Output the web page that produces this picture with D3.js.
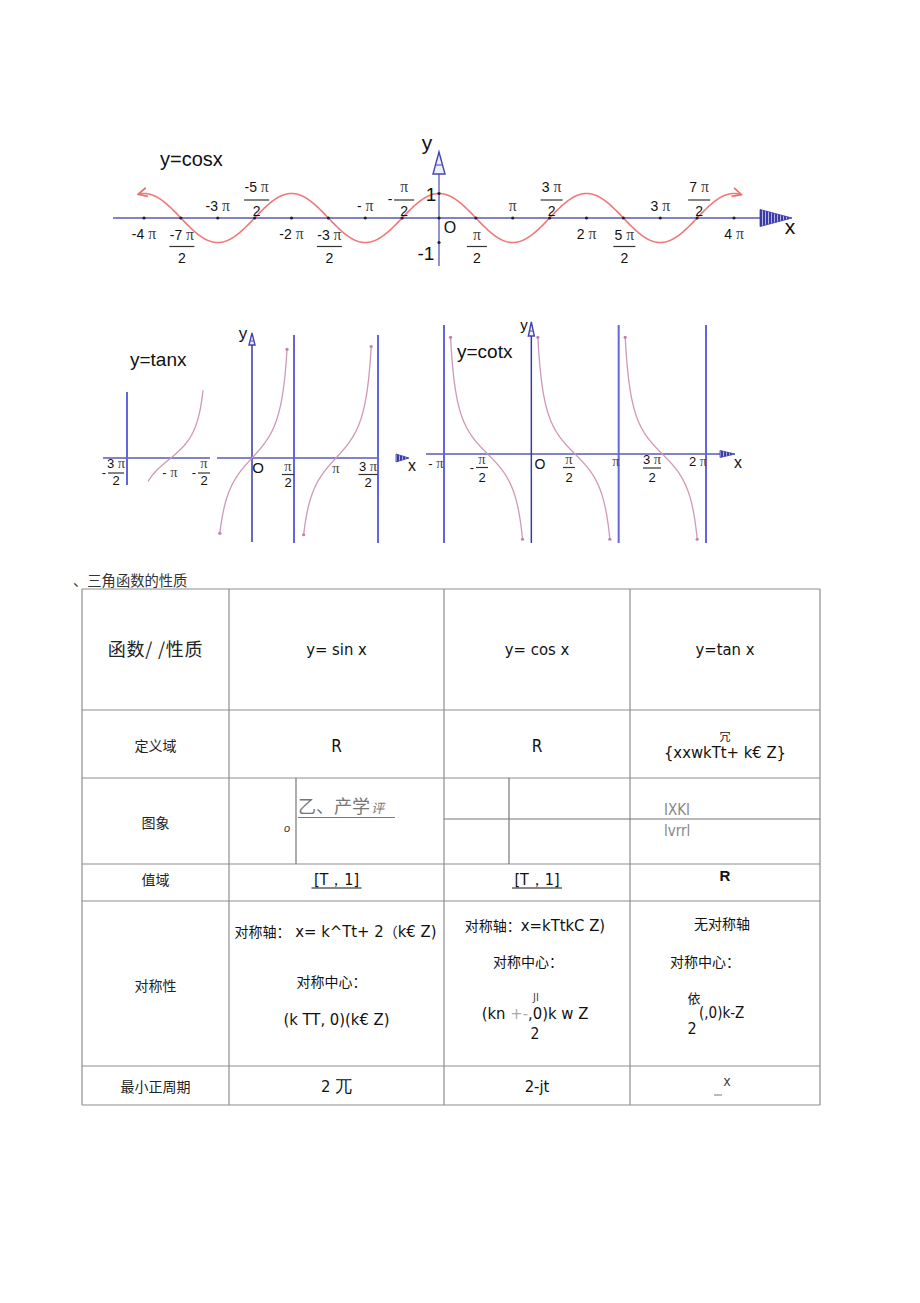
<!DOCTYPE html>
<html><head><meta charset="utf-8">
<script src="https://cdn.jsdelivr.net/npm/d3@7"></script>
<style>body{margin:0;background:#fff}svg{display:block}</style>
</head><body>
<svg id="c" width="920" height="1303"></svg>
<script>
const PI = Math.PI;
// ---------- data (x values in units of π) ----------
const cosRange = [-4.08, 4.1];
const cosIntTicks = [
  {k:-4, t:"-4", side:"b"}, {k:-3, t:"-3", side:"a"}, {k:-2, t:"-2", side:"b"}, {k:-1, t:"-", side:"a"},
  {k:1, t:"", side:"a"}, {k:2, t:"2", side:"b"}, {k:3, t:"3", side:"a"}, {k:4, t:"4", side:"b"}
];
const cosFracTicks = [
  {k:-3.5, n:"-7", side:"b"}, {k:-2.5, n:"-5", side:"a"}, {k:-1.5, n:"-3", side:"b"}, {k:-0.5, n:"", pre:"-", side:"a"},
  {k:0.5, n:"", side:"b"}, {k:1.5, n:"3", side:"a"}, {k:2.5, n:"5", side:"b"}, {k:3.5, n:"7", side:"a"}
];
const cosDots = [-4,-3.5,-3,-2.5,-2,-1.5,-1,-0.5,0,0.5,1,1.5,2,2.5,3,3.5,4];
const tanLeftBranch = [-1.26, -0.6];
const tanLeftAsym = [-1.5];
const tanBranches = [[-0.383, 0.419], [0.615, 1.42]];
const tanAsym = [0.5, 1.5];
const cotBranches = [[-0.925, -0.1], [0.075, 0.9], [1.075, 1.9]];
const cotAsym = [-1, 1, 2];
const tableTitle = "、三角函数的性质";
const headerRow = ["函数/ /性质", "y= sin x", "y= cos x", "y=tan x"];
const rowLabels = ["定义域", "图象", "值域", "对称性", "最小正周期"];
const domainRow = ["R", "R", "{xxwkTt+ k€ Z}"];
const rangeRow = ["[T，1]", "[T，1]", "R"];
const periodRow = ["2 兀", "2-jt", "x"];

// ---------- helpers ----------
const svg = d3.select("#c");
svg.append("rect").attr("width",920).attr("height",1303).attr("fill","#fff");
const LAT = "'Liberation Sans', Arial, sans-serif";
const NAR = "'Liberation Sans Narrow','DejaVu Sans Condensed','Liberation Sans',sans-serif";
const CJK = "'Noto Sans CJK SC','Noto Sans CJK JP',sans-serif";
const PIF = "'Liberation Serif','DejaVu Serif',serif";

const defs = svg.append("defs");
const pat = defs.append("pattern").attr("id","stripe").attr("width",3).attr("height",3)
  .attr("patternUnits","userSpaceOnUse");
pat.append("rect").attr("width",3).attr("height",3).attr("fill","#3a3aa8");
pat.append("rect").attr("width",1).attr("height",3).attr("fill","#b8b8e8");
defs.append("marker").attr("id","ar").attr("viewBox","0 0 10 10").attr("refX",9).attr("refY",5)
  .attr("markerWidth",7).attr("markerHeight",7).attr("orient","auto-start-reverse")
  .append("path").attr("d","M1,1 L9,5 L1,9").attr("fill","none").attr("stroke","#f07070").attr("stroke-width",1.6);

function piText(g, x, y, pre, size, anchor, color) {
  const t = g.append("text").attr("x",x).attr("y",y).attr("font-family",LAT).attr("font-size",size)
    .attr("text-anchor",anchor||"middle").attr("fill",color||"#111");
  if (pre) t.append("tspan").text(pre);
  t.append("tspan").attr("font-family",PIF).attr("font-size",size*1.12).attr("fill","#444").text((pre?" ":"")+"π");
  return t;
}
function txt(g, x, y, s, size, opts) {
  opts = opts || {};
  return g.append("text").attr("x",x).attr("y",y).attr("font-family",opts.font||LAT).attr("font-size",size)
    .attr("text-anchor",opts.anchor||"middle").attr("fill",opts.color||"#111")
    .attr("font-weight",opts.weight||"normal").attr("font-style",opts.style||"normal")
    .attr("letter-spacing",opts.ls||0).text(s);
}
function frac(g, cx, num, yNum, yBar, yDen, w, size, pre) {
  piText(g, cx, yNum, num, size);
  g.append("line").attr("x1",cx-w/2).attr("x2",cx+w/2).attr("y1",yBar).attr("y2",yBar).attr("stroke","#333").attr("stroke-width",1.2);
  txt(g, cx, yDen, "2", size);
  if (pre) txt(g, cx-w/2-4, yBar+4, pre, size);
}
function arrowRight(g, x0, x1, y, h) {
  g.append("polygon").attr("points",`${x0},${y-h} ${x1},${y} ${x0},${y+h}`).attr("fill","url(#stripe)").attr("stroke","#3a3aa8").attr("stroke-width",0.8);
}
function arrowUp(g, x, y0, y1, w) {
  g.append("polygon").attr("points",`${x},${y0} ${x-w},${y1} ${x+w},${y1}`).attr("fill","#eef").attr("stroke","#4444b0").attr("stroke-width",1.4);
  g.append("line").attr("x1",x-w*0.5).attr("x2",x+w*0.5).attr("y1",(y0+y1)/2+2).attr("y2",(y0+y1)/2+2).attr("stroke","#4444b0");
}

// ---------- cos chart ----------
const gc = svg.append("g");
const xC = d3.scaleLinear().domain([-4,4]).range([144,734]);
const yC = d3.scaleLinear().domain([-1,1]).range([242.5,193.5]);
gc.append("line").attr("x1",113).attr("x2",762).attr("y1",yC(0)).attr("y2",yC(0)).attr("stroke","#5a5ab0").attr("stroke-width",1.5);
gc.append("line").attr("x1",xC(0)).attr("x2",xC(0)).attr("y1",160).attr("y2",266).attr("stroke","#5a5ab0").attr("stroke-width",1.3);
arrowRight(gc, 760, 792, yC(0), 8.5);
arrowUp(gc, xC(0), 152, 174, 6);
const cosPts = d3.range(cosRange[0], cosRange[1]+1e-9, 0.01).map(t => [xC(t), yC(Math.cos(t*PI))]);
gc.append("path").attr("d", d3.line()(cosPts)).attr("fill","none").attr("stroke","#f07878").attr("stroke-width",1.6)
  .attr("marker-start","url(#ar)").attr("marker-end","url(#ar)");
gc.selectAll("circle.d").data(cosDots).join("circle").attr("cx",d=>xC(d)).attr("cy",yC(0)).attr("r",1.6).attr("fill","#222");
gc.selectAll("circle.v").data([-1,1]).join("circle").attr("cx",xC(0)).attr("cy",d=>yC(d)).attr("r",1.6).attr("fill","#222");
cosIntTicks.forEach(d => piText(gc, xC(d.k), d.side==="a" ? 211 : 239, d.t, 14));
cosFracTicks.forEach(d => {
  const w = d.n.length > 1 ? 25 : (d.n ? 22 : 20);
  if (d.side === "a") frac(gc, xC(d.k)+2, d.n, 192, 200, 216, w, 14, d.pre);
  else frac(gc, xC(d.k)+1, d.n, 240, 246.5, 263, w, 14, d.pre);
});
txt(gc, 160, 166, "y=cosx", 20, {anchor:"start"});
txt(gc, 427, 150, "y", 21);
txt(gc, 790, 234, "x", 21);
txt(gc, 431, 201, "1", 19);
txt(gc, 426, 260, "-1", 19);
txt(gc, 450, 233, "O", 16);

// ---------- tan chart ----------
const gt = svg.append("g");
const xT = d3.scaleLinear().domain([0,1.5]).range([252,378]);
const yT = d3.scaleLinear().domain([-1,1]).range([487,429]);
const xTL = d3.scaleLinear().domain([-1.5,-1,-0.5]).range([127,171,211]);
const yTL = d3.scaleLinear().domain([-1,1]).range([480,436]);
const AX = "#5a5ab8", ASY = "#6464e0", CUR = "#d098b8";
// left piece
gt.append("line").attr("x1",103).attr("x2",210).attr("y1",yTL(0)).attr("y2",yTL(0)).attr("stroke",AX).attr("stroke-width",1.6);
gt.selectAll("line.la").data(tanLeftAsym).join("line").attr("x1",d=>xTL(d)).attr("x2",d=>xTL(d)).attr("y1",392).attr("y2",485).attr("stroke",ASY).attr("stroke-width",2);
gt.append("path").attr("d", d3.line()(d3.range(tanLeftBranch[0], tanLeftBranch[1]+1e-9, 0.005).map(t=>[xTL(t), yTL(Math.tan(t*PI))])))
  .attr("fill","none").attr("stroke",CUR).attr("stroke-width",1.3);
// main piece
gt.append("line").attr("x1",217).attr("x2",378).attr("y1",yT(0)).attr("y2",yT(0)).attr("stroke",AX).attr("stroke-width",1.6);
gt.append("line").attr("x1",xT(0)).attr("x2",xT(0)).attr("y1",340).attr("y2",542).attr("stroke","#3a3aa0").attr("stroke-width",1.5);
gt.selectAll("line.a").data(tanAsym).join("line").attr("x1",d=>xT(d)).attr("x2",d=>xT(d)).attr("y1",335).attr("y2",543).attr("stroke",ASY).attr("stroke-width",2);
tanBranches.forEach(b => {
  const pts = d3.range(b[0], b[1]+1e-9, 0.004).map(t=>[xT(t), yT(Math.tan(t*PI))]);
  gt.append("path").attr("d", d3.line()(pts)).attr("fill","none").attr("stroke",CUR).attr("stroke-width",1.3);
  [pts[0], pts[pts.length-1]].forEach(p => gt.append("circle").attr("cx",p[0]).attr("cy",p[1]).attr("r",1.6).attr("fill","#c080b0"));
});
arrowUp(gt, xT(0), 333, 345, 3);
arrowRight(gt, 396, 409, yT(0), 4);
txt(gt, 130, 366, "y=tanx", 19, {anchor:"start"});
txt(gt, 243, 339, "y", 17);
txt(gt, 412, 471, "x", 16);
frac(gt, 116, "3", 468, 473, 485, 16, 13, "-");
piText(gt, 170, 477, "-", 13);
frac(gt, 204, "", 468, 473, 485, 12, 13, "-");
txt(gt, 258, 473, "O", 15);
frac(gt, 288, "", 471, 474.5, 487, 12, 13);
piText(gt, xT(1), 473, "", 13);
frac(gt, 368, "3", 471, 474.5, 487, 19, 13);

// ---------- cot chart ----------
const gk = svg.append("g");
const xK = d3.scaleLinear().domain([-1,2]).range([444,706]);
const yK = d3.scaleLinear().domain([-1,1]).range([482,426]);
gk.append("line").attr("x1",426).attr("x2",720).attr("y1",yK(0)).attr("y2",yK(0)).attr("stroke",AX).attr("stroke-width",1.6);
gk.append("line").attr("x1",xK(0)).attr("x2",xK(0)).attr("y1",330).attr("y2",543).attr("stroke","#3a3aa0").attr("stroke-width",1.5);
gk.selectAll("line.a").data(cotAsym).join("line").attr("x1",d=>xK(d)).attr("x2",d=>xK(d)).attr("y1",325).attr("y2",543).attr("stroke",ASY).attr("stroke-width",2);
cotBranches.forEach(b => {
  const pts = d3.range(b[0], b[1]+1e-9, 0.004).map(t=>[xK(t), yK(1/Math.tan(t*PI))]);
  gk.append("path").attr("d", d3.line()(pts)).attr("fill","none").attr("stroke",CUR).attr("stroke-width",1.3);
  [pts[0], pts[pts.length-1]].forEach(p => gk.append("circle").attr("cx",p[0]).attr("cy",p[1]).attr("r",1.6).attr("fill","#c080b0"));
});
arrowUp(gk, xK(0), 322, 336, 3);
arrowRight(gk, 720, 735, yK(0), 3.5);
txt(gk, 457, 358, "y=cotx", 19, {anchor:"start"});
txt(gk, 524, 330, "y", 15);
txt(gk, 738, 468, "x", 16);
piText(gk, 436, 468, "-", 13);
frac(gk, 482, "", 464, 467.5, 482, 12, 13, "-");
txt(gk, 540, 469, "O", 14);
frac(gk, 569, "", 464, 467.5, 482, 12, 13);
piText(gk, 616, 466, "", 13);
frac(gk, 652, "3", 464, 468, 482, 18, 13);
piText(gk, 698, 466, "2", 13);

// ---------- table ----------
const gtab = svg.append("g");
const colX = [82, 229, 444, 630, 820];
const rowY = [589, 710, 778, 864, 901, 1066, 1105];
const LC = "#8e8e8e";
txt(gtab, 73, 586, tableTitle, 14.3, {anchor:"start", font:CJK, color:"#333"});
rowY.forEach(y => gtab.append("line").attr("x1",colX[0]).attr("x2",colX[4]).attr("y1",y).attr("y2",y).attr("stroke",LC).attr("stroke-width",1.2));
colX.forEach(x => gtab.append("line").attr("x1",x).attr("x2",x).attr("y1",rowY[0]).attr("y2",rowY[6]).attr("stroke",LC).attr("stroke-width",1.2));
// sub-cells in the 图象 row
[296, 509].forEach(x => gtab.append("line").attr("x1",x).attr("x2",x).attr("y1",rowY[2]).attr("y2",rowY[3]).attr("stroke","#777").attr("stroke-width",1.2));
gtab.append("line").attr("x1",444).attr("x2",820).attr("y1",819).attr("y2",819).attr("stroke","#777").attr("stroke-width",1.2);

const cx = [155.5, 336.5, 537, 725];
// header
txt(gtab, cx[0], 656, headerRow[0], 18, {font:CJK, color:"#222", ls:0.8});
for (let i=1;i<4;i++) txt(gtab, cx[i], 655, headerRow[i], 16.5, {font:NAR});
// row labels
const labelY = [751, 828, 885, 991, 1092];
rowLabels.forEach((s,i) => txt(gtab, cx[0], labelY[i], s, 14, {font:CJK, color:"#222"}));
// 定义域
txt(gtab, cx[1], 752, domainRow[0], 17, {font:NAR});
txt(gtab, cx[2], 752, domainRow[1], 17, {font:NAR});
txt(gtab, cx[3], 741, "冗", 11, {font:CJK});
txt(gtab, cx[3], 758, domainRow[2], 16.5, {font:NAR});
// 图象
txt(gtab, 298, 813, "乙、产学", 18, {anchor:"start", font:CJK, color:"#777"});
txt(gtab, 371, 813, "评", 13, {anchor:"start", font:CJK, color:"#777", style:"italic"});
gtab.append("line").attr("x1",298).attr("x2",395).attr("y1",817.5).attr("y2",817.5).attr("stroke","#777").attr("stroke-width",1);
txt(gtab, 287, 832, "o", 11, {font:LAT, style:"italic", color:"#333"});
txt(gtab, 664, 815, "IXKI", 15, {anchor:"start", font:NAR, color:"#888"});
txt(gtab, 664, 836, "lvrrl", 15, {anchor:"start", font:NAR, color:"#888"});
// 值域
[1,2].forEach(i => {
  txt(gtab, cx[i], 885, rangeRow[i-1], 16, {font:NAR});
  gtab.append("line").attr("x1",cx[i]-25).attr("x2",cx[i]+25).attr("y1",888).attr("y2",888).attr("stroke","#111").attr("stroke-width",1);
});
txt(gtab, cx[3], 881, rangeRow[2], 15, {font:LAT, weight:"bold"});
// 对称性
function mixed(x, y, parts, anchor) {
  const t = gtab.append("text").attr("x",x).attr("y",y).attr("text-anchor",anchor||"middle").attr("fill","#111");
  parts.forEach(p => t.append("tspan").attr("font-family",p[1]==="c"?CJK:NAR).attr("font-size",p[1]==="c"?14:16.5).attr("fill",p[2]||"#111").text(p[0]));
  return t;
}
mixed(cx[1]-1, 937, [["对称轴：","c"],[" x= k^Tt+ 2","l"],["（","c"],["k€ Z)","l"]]);
mixed(cx[1]-5, 987, [["对称中心：","c"]]);
mixed(cx[1], 1025, [["(k TT, 0)(k€ Z)","l"]]);
mixed(cx[2]-2, 931, [["对称轴：","c"],["x=kTtkC Z)","l"]]);
mixed(cx[2]-9, 967, [["对称中心：","c"]]);
txt(gtab, 536, 1001, "JI", 11, {font:NAR, color:"#444"});
mixed(cx[2]-2, 1019, [["(kn ","l"],["+-","l","#aaa"],[",0)k w Z","l"]]);
txt(gtab, 535, 1039, "2", 15.5, {font:NAR});
mixed(cx[3]-3, 929, [["无对称轴","c"]]);
mixed(cx[3]-20, 967, [["对称中心：","c"]]);
txt(gtab, 694, 1003, "依", 13, {font:CJK});
txt(gtab, 699, 1018, "(,0)k-Z", 15, {anchor:"start", font:NAR});
txt(gtab, 692, 1034, "2", 16, {font:NAR});
// 最小正周期
txt(gtab, cx[1], 1092, periodRow[0], 16.5, {font:NAR});
txt(gtab, cx[2], 1092, periodRow[1], 16.5, {font:NAR});
txt(gtab, cx[3]+2, 1086, periodRow[2], 14, {font:NAR, color:"#444"});
gtab.append("line").attr("x1",714).attr("x2",722).attr("y1",1095).attr("y2",1095).attr("stroke","#777").attr("stroke-width",1);
</script>
</body></html>
